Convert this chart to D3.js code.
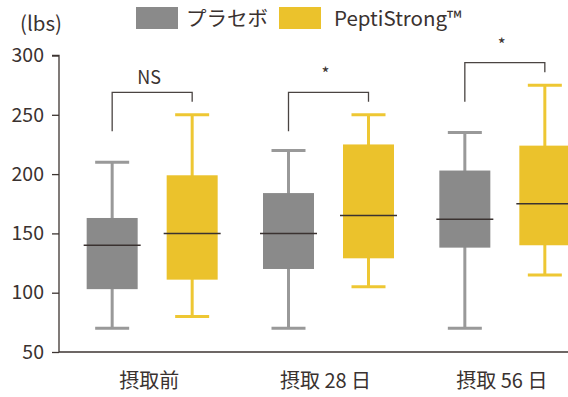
<!DOCTYPE html>
<html>
<head>
<meta charset="utf-8">
<script src="https://cdn.jsdelivr.net/npm/d3@7"></script>
<style>
  html, body { margin: 0; padding: 0; background: #fff; }
  svg { display: block; }
  text { font-family: "Noto Sans CJK JP", "Noto Sans", sans-serif; fill: #3a3230; }
</style>
</head>
<body>
<div id="chart"></div>
<script>
// Groups (time points) and series
const groups = ["摂取前", "摂取 28 日", "摂取 56 日"];
const series = ["プラセボ", "PeptiStrong™"];
const seriesColors = ["#8a8a8a", "#ebc22c"];
const whiskerColors = ["#999999", "#eec733"];

// Box statistics per series, one entry per group: [min, q1, median, q3, max]
const placeboStats = [
  [70, 103, 140, 163, 210],
  [70, 120, 150, 184, 220],
  [70, 138, 162, 203, 235]
];
const peptiStats = [
  [80, 111, 150, 199, 250],
  [105, 129, 165, 225, 250],
  [115, 140, 175, 224, 275]
];

// Significance label for each group
const sigLabels = ["NS", "*", "*"];

const yTicks = [50, 100, 150, 200, 250, 300];

const width = 568, height = 397;
const svg = d3.select("#chart").append("svg")
  .attr("width", width).attr("height", height);

const y = d3.scaleLinear().domain([50, 300]).range([352, 55.5]);
const x0 = d3.scaleBand().domain(groups).range([64, 593]);
const x1 = d3.scalePoint().domain(series).range([-40, 40]);
const boxW = 51, capW = 34;

// Y axis
const yAxis = d3.axisLeft(y).tickValues(yTicks).tickSize(7).tickPadding(8);
const gy = svg.append("g").attr("transform", "translate(59,0)").call(yAxis);
gy.select(".domain").attr("stroke", "#3d3532").attr("stroke-width", 1.3).attr("d", `M-7,${y(300)}H0V${y(50)}`);
gy.selectAll(".tick line").attr("stroke", "#3d3532").attr("stroke-width", 1.3);
gy.selectAll(".tick text").attr("font-size", 19.5).attr("fill", "#3a3230")
  .style("font-family", '"Noto Sans CJK JP", sans-serif');

// X axis baseline and category labels
const xAxis = d3.axisBottom(x0).tickSize(0).tickPadding(22);
const gx = svg.append("g").attr("transform", `translate(0,${y(50)})`).call(xAxis);
gx.select(".domain").attr("stroke", "#3d3532").attr("stroke-width", 1.3).attr("d", `M59,0H${width}`);
gx.selectAll(".tick text").attr("font-size", 20).attr("fill", "#3a3230")
  .attr("dx", -3)
  .style("font-family", '"Noto Sans CJK JP", sans-serif');

// Unit label
svg.append("text").attr("x", 20).attr("y", 31).attr("font-size", 20.5).text("(lbs)");

// Box plots
const allStats = [placeboStats, peptiStats];
series.forEach((s, si) => {
  const g = svg.append("g");
  groups.forEach((grp, gi) => {
    const [mn, q1, med, q3, mx] = allStats[si][gi];
    const cx = x0(grp) + x0.bandwidth() / 2 + x1(s);
    // whisker stem
    g.append("line").attr("x1", cx).attr("x2", cx).attr("y1", y(mx)).attr("y2", y(mn))
      .attr("stroke", whiskerColors[si]).attr("stroke-width", 3);
    // caps
    [mn, mx].forEach(v => g.append("line")
      .attr("x1", cx - capW / 2).attr("x2", cx + capW / 2).attr("y1", y(v)).attr("y2", y(v))
      .attr("stroke", whiskerColors[si]).attr("stroke-width", 3));
    // box
    g.append("rect").attr("x", cx - boxW / 2).attr("y", y(q3))
      .attr("width", boxW).attr("height", y(q1) - y(q3)).attr("fill", seriesColors[si]);
    // median
    g.append("line").attr("x1", cx - boxW / 2 - 3).attr("x2", cx + boxW / 2 + 3)
      .attr("y1", y(med)).attr("y2", y(med)).attr("stroke", "#3a3230").attr("stroke-width", 1.5);
  });
});

// Significance brackets
groups.forEach((grp, gi) => {
  const c = x0(grp) + x0.bandwidth() / 2;
  const xl = c + x1(series[0]), xr = c + x1(series[1]);
  const topMax = Math.max(placeboStats[gi][4], peptiStats[gi][4]);
  const yTop = y(topMax) - 22.5;
  svg.append("path")
    .attr("d", `M${xl},${yTop + 39}V${yTop}H${xr}V${yTop + 9.5}`)
    .attr("fill", "none").attr("stroke", "#4a4442").attr("stroke-width", 1.3);
  const lab = sigLabels[gi];
  svg.append("text")
    .attr("x", c - 3).attr("y", lab === "NS" ? yTop - 8 : yTop - 12)
    .attr("text-anchor", "middle")
    .attr("font-size", lab === "NS" ? 18 : 17)
    .text(lab);
});

// Legend
const legend = svg.append("g");
const legendX = [136, 279];
series.forEach((s, i) => {
  legend.append("rect").attr("x", legendX[i]).attr("y", 7).attr("width", 42).attr("height", 22)
    .attr("fill", seriesColors[i]);
  legend.append("text").attr("x", legendX[i] + 50 + (i === 1 ? 5 : 0)).attr("y", 26)
    .attr("font-size", 20.5).text(s);
});
</script>
</body>
</html>
